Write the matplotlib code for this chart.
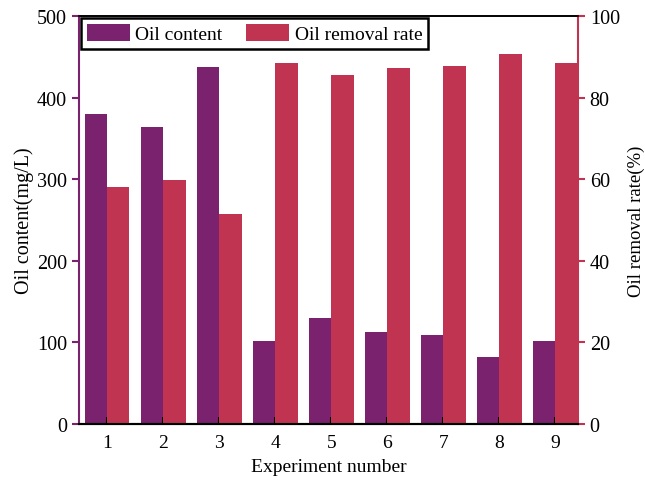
import matplotlib.pyplot as plt
import numpy as np

plt.rcParams["font.family"] = ["Liberation Serif", "DejaVu Serif"]

experiments = [1, 2, 3, 4, 5, 6, 7, 8, 9]
oil_content = [380, 364, 438, 102, 130, 113, 109, 82, 102]
removal_rate = [58.0, 59.8, 51.5, 88.6, 85.5, 87.3, 87.8, 90.8, 88.6]

purple = "#7a226e"
crimson = "#c03351"

fig = plt.figure(figsize=(6.45, 4.89), dpi=100)
ax = fig.add_axes([0.1225, 0.131, 0.7735, 0.834])
ax2 = ax.twinx()

x = np.array(experiments)
w = 0.4
b1 = ax.bar(x - w / 2, oil_content, width=w, color=purple, label="Oil content")
b2 = ax2.bar(x + w / 2, removal_rate, width=w, color=crimson, label="Oil removal rate")

ax.set_xlim(0.5, 9.4)
ax.set_ylim(0, 500)
ax2.set_ylim(0, 100)
ax.set_xticks(experiments)
ax.set_yticks(range(0, 501, 100))
ax2.set_yticks(range(0, 101, 20))

ax.set_xlabel("Experiment number", fontsize=14, labelpad=5)
ax.set_ylabel("Oil content(mg/L)", fontsize=14.5, labelpad=2)
ax2.set_ylabel("Oil removal rate(%)", fontsize=13.5, labelpad=6)

ax.tick_params(axis="x", direction="in", length=5, width=1.5, labelsize=14, pad=7)
ax.tick_params(axis="y", direction="out", length=5, width=1.5, color=purple, labelsize=14.5)
ax2.tick_params(axis="y", direction="out", length=5, width=1.5, color=crimson, labelsize=14.5)

for a in (ax, ax2):
    a.spines["top"].set_linewidth(1.2)
    a.spines["bottom"].set_linewidth(1.5)
ax2.spines["left"].set_color(purple)
ax2.spines["left"].set_linewidth(1.5)
ax2.spines["right"].set_color(crimson)
ax2.spines["right"].set_linewidth(1.5)
ax.spines["left"].set_visible(False)
ax.spines["right"].set_visible(False)

leg = ax2.legend([b1, b2], ["Oil content", "Oil removal rate"], loc="upper left",
                 ncol=2, fontsize=14, frameon=True, fancybox=False,
                 edgecolor="black", framealpha=1, borderaxespad=0.1,
                 handlelength=2.2, handleheight=1.0, columnspacing=1.2,
                 borderpad=0.3, handletextpad=0.3)
leg.get_frame().set_linewidth(1.8)

fig.savefig("out.png", dpi=100)
